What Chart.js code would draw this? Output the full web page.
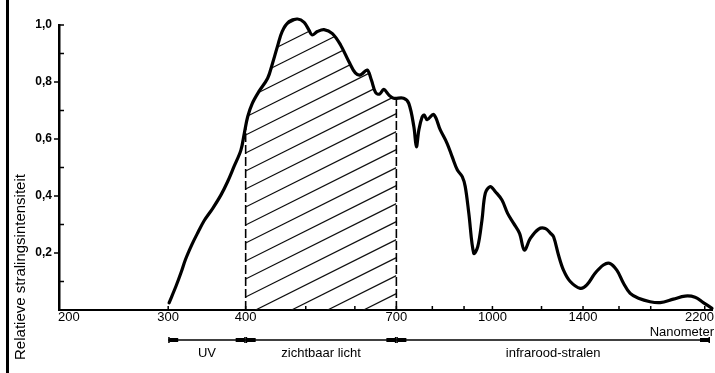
<!DOCTYPE html>
<html>
<head>
<meta charset="utf-8">
<title>Relatieve stralingsintensiteit</title>
<script src="https://cdn.jsdelivr.net/npm/chart.js@4.4.1/dist/chart.umd.min.js"></script>
<style>
html,body{margin:0;padding:0;background:#fff;}
#wrap{width:715px;height:373px;}
</style>
</head>
<body>
<div id="wrap"><canvas id="chart" width="715" height="373"></canvas></div>
<script>
// golflengte in nanometer
var golflengte = [301,309,315,320,328,335,343,354,365,374,
	383,393,398,403,410,420,434,442,450,458,
	470,485,497,506,512,522,535,552,569,587,
	601,613,628,638,648,658,668,681,693,719,
	733,747,754,761,770,776,785,804,824,845,
	861,878,894,904,916,933,947,962,974,992,
	1011,1036,1058,1082,1106,1126,1151,1187,1217,1240,
	1255,1278,1302,1335,1386,1420,1464,1510,1544,1587,
	1627,1668,1720,1796,1864,1958,2045,2122,2188,2260];
// relatieve stralingsintensiteit
var intensiteit = [0.025,0.085,0.134,0.178,0.232,0.272,0.314,0.357,0.404,0.45,
	0.503,0.561,0.62,0.678,0.725,0.766,0.813,0.866,0.924,0.977,
	1.012,1.021,1.009,0.982,0.965,0.977,0.984,0.97,0.93,0.871,
	0.832,0.825,0.842,0.807,0.763,0.758,0.774,0.754,0.743,0.743,
	0.725,0.643,0.573,0.632,0.676,0.684,0.668,0.686,0.632,0.585,
	0.538,0.491,0.468,0.433,0.34,0.199,0.222,0.316,0.41,0.433,
	0.415,0.386,0.339,0.304,0.269,0.21,0.251,0.284,0.286,0.27,
	0.257,0.193,0.14,0.1,0.076,0.088,0.129,0.158,0.164,0.14,
	0.094,0.058,0.041,0.029,0.026,0.038,0.049,0.045,0.026,0.006];

var xLabels = [200,300,400,700,1000,1400,2200];
var xMinor = [500,600,800,900,1200,1600,1800];
var zichtbaar = [400,700];
var bandGrenzen = [300,400,700,2260];
var bandNamen = ['UV','zichtbaar licht','infrarood-stralen'];

var FONT = '"Liberation Sans", Arial, Helvetica, sans-serif';

var punten = [];
for(var i=0;i<golflengte.length;i++){
	punten.push({x:golflengte[i], y:intensiteit[i]});
}

// arcering + stippellijnen onder de curve (400-700 nm)
var arcering = {
	id:'arcering',
	beforeDatasetsDraw:function(chart){
		var ctx = chart.ctx;
		var xs = chart.scales.x, ys = chart.scales.y;
		var line = chart.getDatasetMeta(0).dataset;
		var pts = line.points;
		var bottom = ys.getPixelForValue(0);
		var x1 = xs.getPixelForValue(zichtbaar[0]);
		var x2 = xs.getPixelForValue(zichtbaar[1]);

		ctx.save();
		ctx.beginPath();
		line.path(ctx);
		ctx.lineTo(pts[pts.length-1].x, bottom);
		ctx.lineTo(pts[0].x, bottom);
		ctx.closePath();
		ctx.clip();

		// stippellijnen
		ctx.strokeStyle = '#000';
		ctx.lineWidth = 1.6;
		ctx.setLineDash([9,3]);
		ctx.beginPath();
		ctx.moveTo(x1, bottom); ctx.lineTo(x1, 0);
		ctx.moveTo(x2, bottom); ctx.lineTo(x2, 0);
		ctx.stroke();
		ctx.setLineDash([]);

		// schuine lijnen
		ctx.beginPath();
		ctx.rect(x1, 0, x2-x1, bottom);
		ctx.clip();
		ctx.lineWidth = 1.2;
		ctx.strokeStyle = '#111';
		ctx.beginPath();
		for(var k=-6;k<22;k++){
			var y0 = bottom - 13 - 18*k;
			ctx.moveTo(x1, y0);
			ctx.lineTo(x2, y0 - 0.5*(x2-x1));
		}
		ctx.stroke();
		ctx.restore();
	}
};

// ticks, labels, kantlijn en de banden onder de as
var extra = {
	id:'extra',
	afterDraw:function(chart){
		var ctx = chart.ctx;
		var xs = chart.scales.x, ys = chart.scales.y;
		var area = chart.chartArea;
		var bottom = ys.getPixelForValue(0);
		var left = area.left;
		ctx.save();
		ctx.fillStyle = '#000';
		ctx.strokeStyle = '#000';

		// kantlijn links
		ctx.fillRect(6, 0, 3, 373);

		// x ticks naar binnen
		ctx.lineWidth = 1.5;
		ctx.beginPath();
		var alle = xLabels.slice(1).concat(xMinor);
		for(var i=0;i<alle.length;i++){
			var px = xs.getPixelForValue(alle[i]);
			ctx.moveTo(px, bottom); ctx.lineTo(px, bottom-4);
		}
		// y ticks: hoofdstreepjes naar buiten, tussenstreepjes naar binnen
		for(var t=1;t<=10;t++){
			var py = ys.getPixelForValue(t/10);
			if(t%2===0 && t<10){
				ctx.moveTo(left-5, py); ctx.lineTo(left, py);
			}else{
				ctx.moveTo(left, py); ctx.lineTo(left+5, py);
			}
		}
		ctx.stroke();

		// x labels
		ctx.font = '13px ' + FONT;
		ctx.textBaseline = 'middle';
		var laatste = xLabels.length-1;
		for(var j=0;j<xLabels.length;j++){
			var lx = xs.getPixelForValue(xLabels[j]);
			ctx.textAlign = 'center';
			if(j===0){ ctx.textAlign = 'left'; lx -= 1; }
			if(j===laatste){ ctx.textAlign = 'right'; lx = area.right + 2; }
			ctx.fillText(String(xLabels[j]), lx, 317);
		}
		ctx.textAlign = 'right';
		ctx.fillText('Nanometer', area.right+2, 332);

		// banden UV / zichtbaar / infrarood
		var by = 340;
		var b0 = xs.getPixelForValue(bandGrenzen[0]);
		var bEnd = area.right - 2;
		ctx.lineWidth = 1.3;
		ctx.beginPath();
		ctx.moveTo(b0, by); ctx.lineTo(bEnd, by);
		ctx.stroke();
		for(var b=0;b<bandNamen.length;b++){
			var a = xs.getPixelForValue(bandGrenzen[b]);
			var e = b===bandNamen.length-1 ? bEnd : xs.getPixelForValue(bandGrenzen[b+1]);
			ctx.fillRect(a+1, by-2, 9, 4);
			ctx.fillRect(e-10, by-2, 9, 4);
			ctx.fillRect(a, by-3, 1.5, 6);
			ctx.fillRect(e-1.5, by-3, 1.5, 6);
			ctx.textAlign = 'center';
			ctx.fillText(bandNamen[b], (a+e)/2, 353);
		}

		// as-titel
		ctx.translate(21, 267);
		ctx.rotate(-Math.PI/2);
		ctx.textAlign = 'center';
		ctx.font = '15px ' + FONT;
		ctx.fillText('Relatieve stralingsintensiteit', 0, 0);
		ctx.restore();
	}
};

var chart = new Chart(document.getElementById('chart'), {
	type:'line',
	data:{
		datasets:[{
			data:punten,
			borderColor:'#000',
			borderWidth:3.2,
			pointRadius:0,
			tension:0.35,
			borderJoinStyle:'round',
			borderCapStyle:'round',
			fill:false,
			clip:false
		}]
	},
	options:{
		responsive:false,
		animation:false,
		devicePixelRatio:1,
		layout:{padding:{top:25,right:3,left:0,bottom:0}},
		plugins:{legend:{display:false}, tooltip:{enabled:false}},
		scales:{
			x:{
				type:'logarithmic',
				min:200,
				max:2260,
				grid:{display:false, drawTicks:false},
				border:{display:true, color:'#000', width:2},
				ticks:{display:false},
				afterFit:function(s){ s.height = 63; }
			},
			y:{
				min:0,
				max:1,
				grid:{display:false, drawTicks:false},
				border:{display:true, color:'#000', width:2.5},
				ticks:{
					stepSize:0.1,
					padding:7,
					color:'#000',
					font:{family:FONT, size:12, weight:'bold'},
					callback:function(v){
						var t = Math.round(v*10);
						if(t===0 || t%2!==0) return '';
						return (t/10).toFixed(1).replace('.', ',');
					}
				},
				afterFit:function(s){ s.width = 59; }
			}
		}
	},
	plugins:[arcering, extra]
});
</script>
</body>
</html>
